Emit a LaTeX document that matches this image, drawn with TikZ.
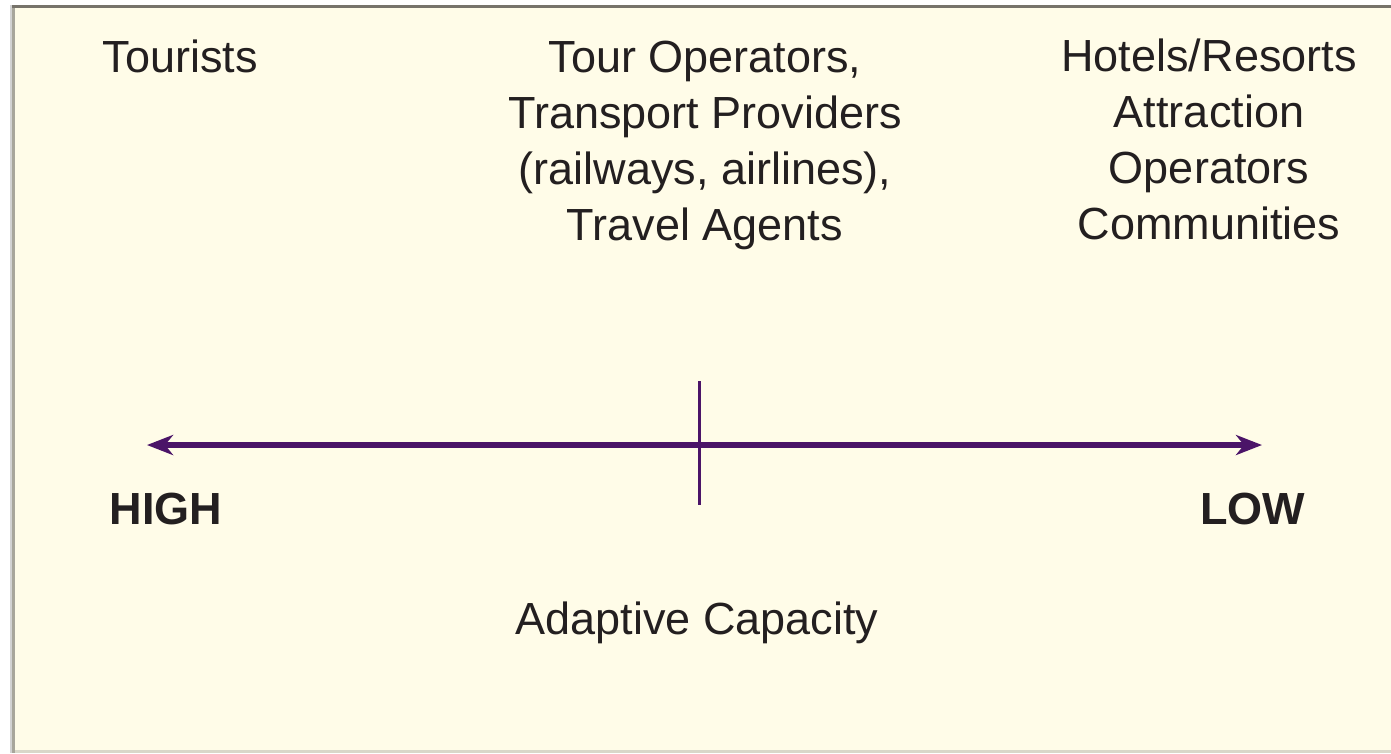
\documentclass[tikz,border=0pt]{standalone}
\usepackage{fontspec}
\setmainfont{Liberation Sans}
\usepackage{tikz}
\usetikzlibrary{positioning}
\usetikzlibrary{arrows.meta}
\definecolor{fondcreme}{RGB}{255,252,232}
\definecolor{violetadapt}{RGB}{75,20,104}
\definecolor{encre}{RGB}{35,31,32}
\definecolor{bordhaut}{RGB}{119,115,106}
\definecolor{bordgauche}{RGB}{168,166,155}
\definecolor{bordclair}{RGB}{210,210,210}
\definecolor{bordbas}{RGB}{217,215,201}

\begin{document}
\begin{tikzpicture}[x=0.01cm,y=-0.01cm]
% définition des paramètres
\tikzstyle cadreadapt=[fill=fondcreme,draw=none]
\tikzstyle texteadapt=[inner sep=0pt,text=encre,align=center,font=\fontsize{12.8}{15.9}\selectfont]
\tikzstyle grasadapt=[texteadapt,font=\fontsize{12.8}{15.9}\selectfont\bfseries]
\tikzstyle flecheadapt=[color=violetadapt,line width=0.55mm,{Stealth[length=2.6mm,width=2mm,inset=0.8mm]}-{Stealth[length=2.6mm,width=2mm,inset=0.8mm]}]
\tikzstyle traitadapt=[color=violetadapt,line width=0.3mm]
\newcommand{\axey}{445}   % hauteur de la flèche
\newcommand{\axemilieu}{699.5} % abscisse du trait vertical
\newcommand{\hauty}{72}   % ligne de base du haut
\newcommand{\quatriemey}{240} % ligne de base de la 4e ligne
\useasboundingbox (0,0) rectangle (1391,753);
% le cadre
\fill [cadreadapt] (12,5) rectangle (1391,753);
\draw [bordclair,line width=0.2mm] (11,5) -- (11,753);
\draw [bordgauche,line width=0.3mm] (13.5,8) -- (13.5,753);
\draw [bordhaut,line width=0.3mm] (12,6.5) -- (1391,6.5);
\draw [bordbas,line width=0.3mm] (15,751.5) -- (1391,751.5);
% les acteurs (ancre = dernière ligne)
\node [texteadapt,anchor=base west] (touristes) at (102,\hauty) {Tourists};
\node [texteadapt,anchor=base] (operateurs) at (705,\quatriemey) {Tour Operators,\\Transport Providers\\(railways, airlines),\\Travel Agents};
\node [texteadapt,anchor=base] (hotels) at (1209,\quatriemey-1) {Hotels/Resorts\\Attraction\\Operators\\Communities};
% l'axe
\coordinate (gauche) at (147,\axey);
\coordinate (droite) at (1262,\axey);
\coordinate (haut) at (\axemilieu,381);
\coordinate (bas) at (\axemilieu,505);
\draw [flecheadapt] (gauche) -- (droite);
\draw [traitadapt] (haut) -- (bas);
\node [grasadapt,anchor=base west] (haute) at (109,524) {HIGH};
\node [grasadapt,anchor=base east] (basse) at (1306,524) {LOW};
\node [texteadapt,anchor=base] (capacite) at (697,634) {Adaptive Capacity};
\end{tikzpicture}
\end{document}
